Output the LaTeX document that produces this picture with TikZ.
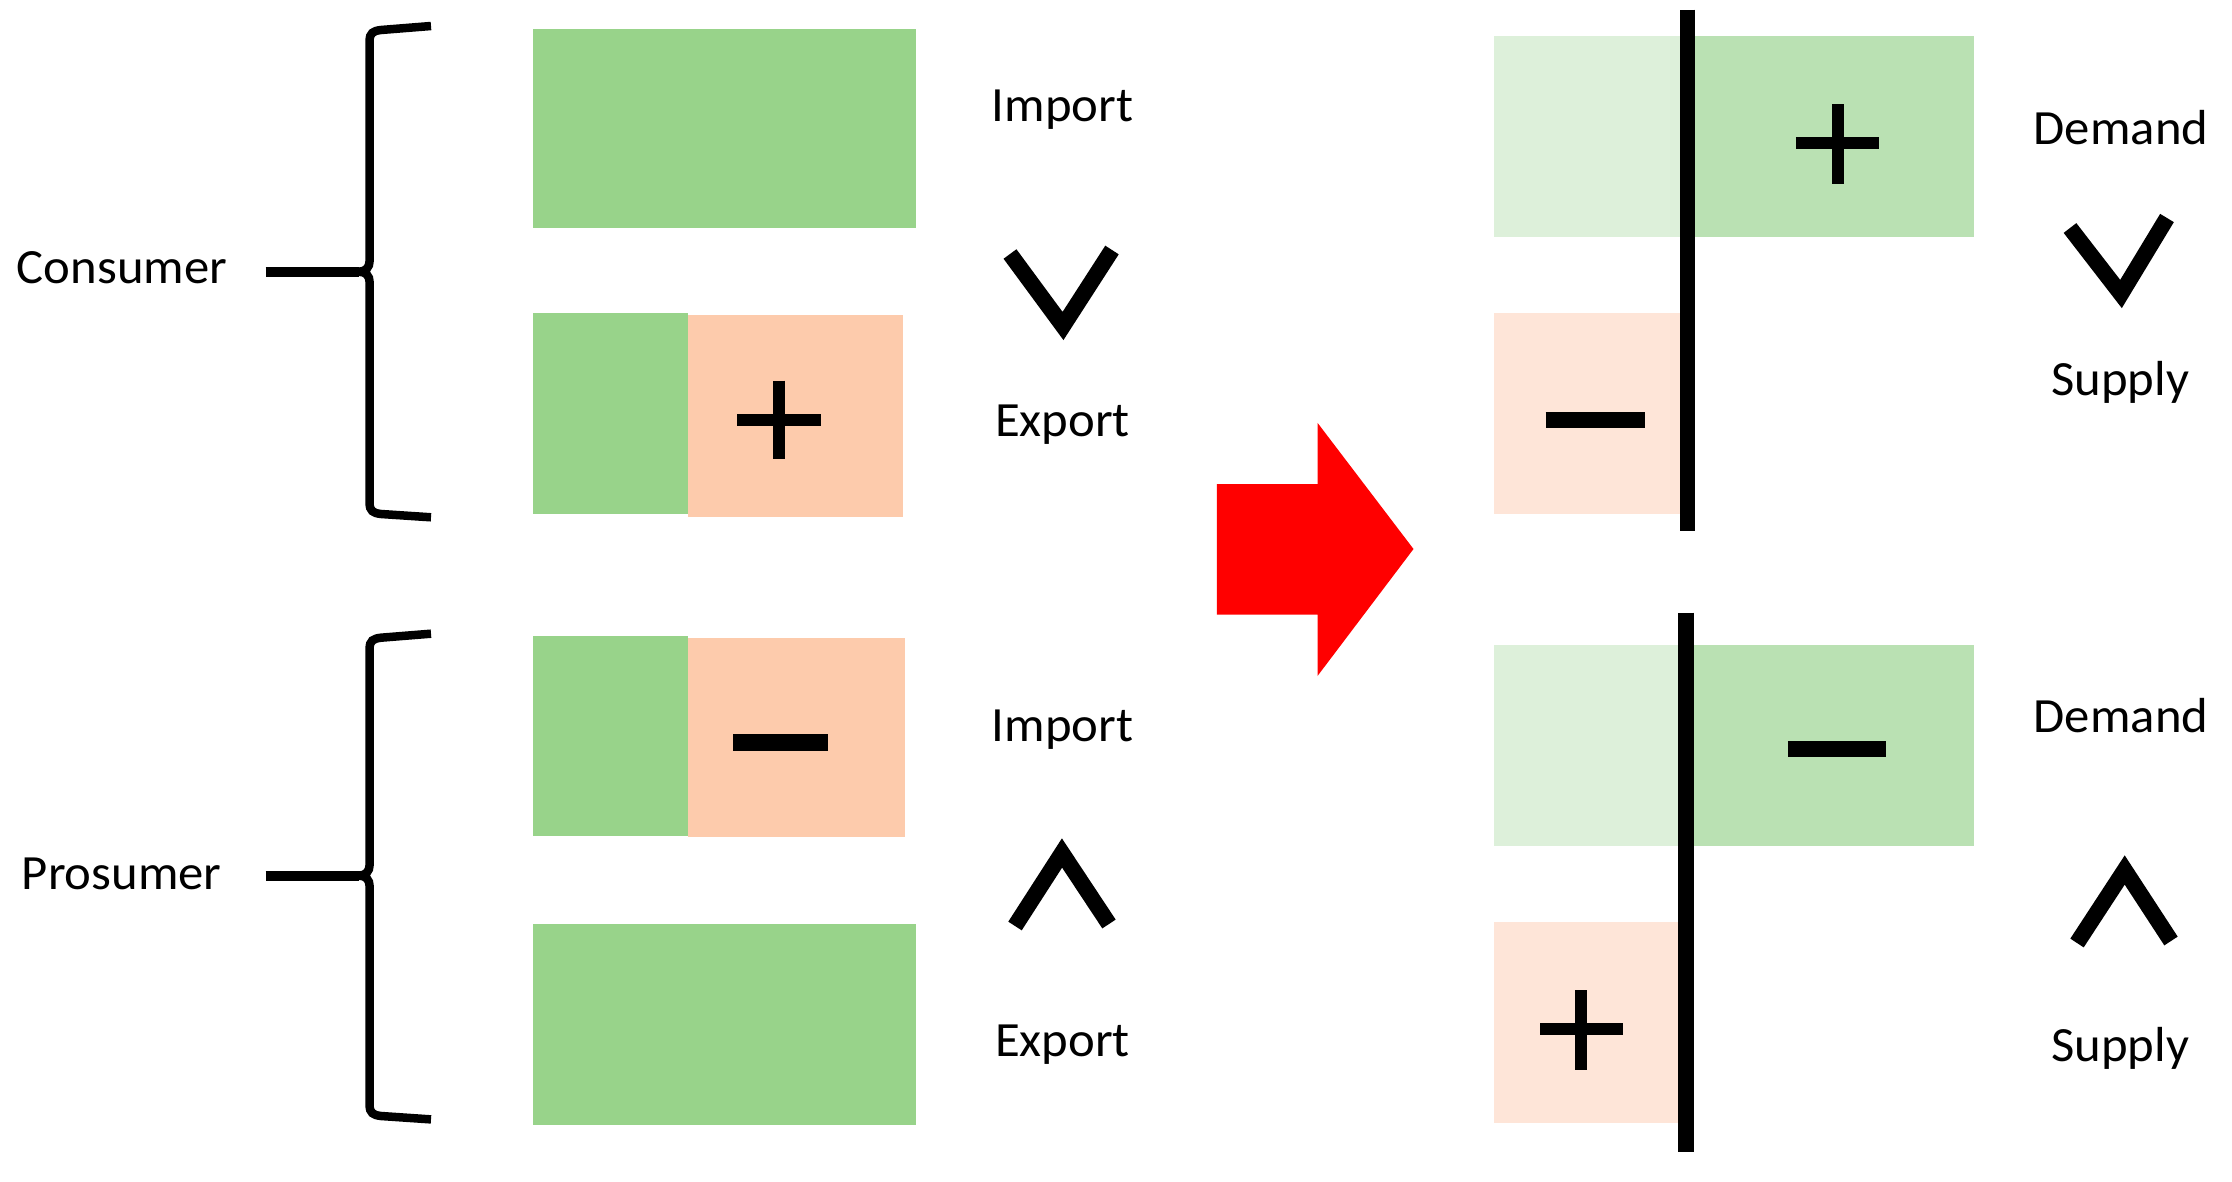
\documentclass[tikz,border=0pt]{standalone}
\usepackage{fontspec}
\setmainfont{Carlito}[FakeStretch=1.03]
\definecolor{midgreen}{HTML}{98D38A}
\definecolor{peach}{HTML}{FDCBAC}
\definecolor{palegreen}{HTML}{DDF0DA}
\definecolor{softgreen}{HTML}{BAE1B3}
\definecolor{palepeach}{HTML}{FEE5D8}
\definecolor{arrowred}{HTML}{FF0000}
\begin{document}
\begin{tikzpicture}[x=0.01cm,y=-0.01cm,
  lbl/.style={font=\fontsize{14}{16}\selectfont, anchor=base, inner sep=0pt},
  plusline/.style={line width=0.12cm},
  minusline/.style={line width=0.16cm},
  chev/.style={line width=0.16cm, miter limit=10},
  bracepath/.style={line width=0.085cm},
  stubline/.style={line width=0.1cm},
  divider/.style={line width=0.155cm}]
\useasboundingbox (0,0) rectangle (2232,1182);

% ---------- left boxes ----------
\fill[midgreen] (533.4,28.7) rectangle (916,228.4);
\fill[midgreen] (533.4,313) rectangle (688,514);
\fill[peach] (688,315) rectangle (903,516.6);
\fill[midgreen] (533.4,636.4) rectangle (688,836.1);
\fill[peach] (688,637.6) rectangle (905.4,837.2);
\fill[midgreen] (533.4,924.4) rectangle (916,1125.2);

% signs left
\draw[plusline] (737,419.8) -- (821.2,419.8) (779,380.7) -- (779,459.2);
\draw[minusline] (733.2,742.5) -- (828,742.5);

% ---------- braces ----------
\draw[bracepath] (431,26) -- (381,30) .. controls (373,31) and (369.6,33) .. (369.6,41)
  -- (369.6,261) .. controls (369.6,267) and (366,271.7) .. (359,271.7)
  .. controls (366,271.7) and (369.6,276) .. (369.6,282)
  -- (369.6,503) .. controls (369.6,511) and (373,513) .. (381,514) -- (431,517.3);
\coordinate (tipA) at (359,271.7);
\coordinate (stubA) at (265.6,271.7);
\draw[stubline] (stubA) -- (tipA);

\draw[bracepath] (431,633.7) -- (381,637.7) .. controls (373,638.7) and (369.6,640.7) .. (369.6,648.7)
  -- (369.6,865) .. controls (369.6,871) and (366,875.6) .. (359,875.6)
  .. controls (366,875.6) and (369.6,880) .. (369.6,886)
  -- (369.6,1105) .. controls (369.6,1113) and (373,1115) .. (381,1116) -- (431,1119.4);
\coordinate (tipB) at (359,875.6);
\coordinate (stubB) at (265.6,875.6);
\draw[stubline] (stubB) -- (tipB);

% ---------- labels left ----------
\node[lbl] (consumer) at (122,283.2) {Consumer};
\node[lbl] (prosumer) at (121.7,889) {Prosumer};
\node[lbl] (imp1) at (1062.6,121.7) {Import};
\node[lbl] (exp1) at (1062.6,436.2) {Export};
\node[lbl] (imp2) at (1062.6,741.2) {Import};
\node[lbl] (exp2) at (1062.6,1056.1) {Export};

% chevrons left
\draw[chev] (1010,254) -- (1063,326) -- (1112,250);
\draw[chev] (1015,926) -- (1062,853) -- (1109,924);

% ---------- red arrow ----------
\fill[arrowred] (1216.9,484) -- (1317.5,484) -- (1317.5,422.8) -- (1413.5,549)
  -- (1317.5,676) -- (1317.5,614.6) -- (1216.9,614.6) -- cycle;

% ---------- right boxes ----------
\fill[palegreen] (1494,36.4) rectangle (1687.6,237.2);
\fill[softgreen] (1687.6,36.4) rectangle (1973.7,237.2);
\fill[palepeach] (1494,313) rectangle (1687.6,513.9);
\fill[palegreen] (1494,645.3) rectangle (1685.9,846.1);
\fill[softgreen] (1685.9,645.3) rectangle (1973.7,846.1);
\fill[palepeach] (1494,921.7) rectangle (1685.9,1122.5);

% dividers
\draw[divider] (1687.6,9.6) -- (1687.6,531.1);
\draw[divider] (1685.9,612.6) -- (1685.9,1152);

% signs right
\draw[plusline] (1795.9,142.7) -- (1879.1,142.7) (1837.5,104.5) -- (1837.5,183.7);
\draw[minusline] (1545.7,419.8) -- (1645,419.8);
\draw[minusline] (1787.9,748.8) -- (1885.8,748.8);
\draw[plusline] (1540.3,1029.2) -- (1622.8,1029.2) (1581.2,990) -- (1581.2,1069.5);

% labels right
\node[lbl] (dem1) at (2121,144.6) {Demand};
\node[lbl] (sup1) at (2120.3,396) {Supply};
\node[lbl] (dem2) at (2121,732.8) {Demand};
\node[lbl] (sup2) at (2120.3,1061.8) {Supply};

% chevrons right
\draw[chev] (2070,228) -- (2121,294) -- (2167,218);
\draw[chev] (2077,943) -- (2124.7,870) -- (2171,941);
\end{tikzpicture}
\end{document}
